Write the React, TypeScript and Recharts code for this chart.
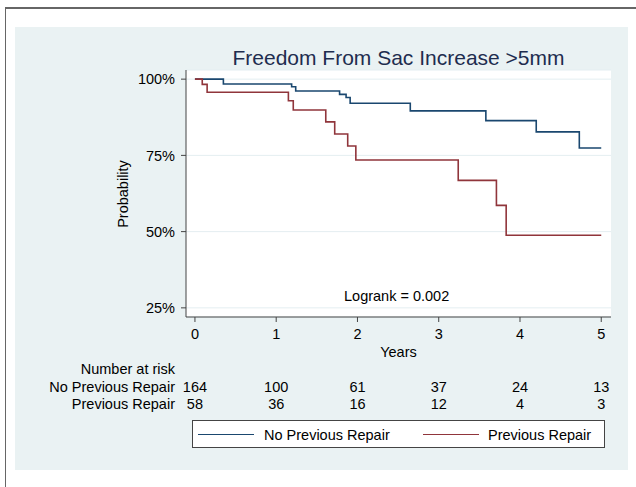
import { LineChart, Line, XAxis, YAxis, CartesianGrid, Legend } from "recharts";

const FONT = '"Liberation Sans", Arial, Helvetica, sans-serif';

// Kaplan-Meier estimates (years, % free of sac increase)
const noPrevYears = [0, 0.35, 1.19, 1.24, 1.78, 1.86, 1.91, 2.65, 3.58, 4.2, 4.73, 5.0];
const noPrevSurv = [100, 98.4, 97.5, 96.1, 95.0, 94.0, 92.1, 89.6, 86.4, 82.7, 77.4, 77.4];
const prevYears = [0, 0.09, 0.15, 1.15, 1.21, 1.61, 1.72, 1.88, 1.98, 3.24, 3.71, 3.83, 5.0];
const prevSurv = [100, 98.3, 95.7, 92.9, 89.9, 86.0, 82.0, 78.1, 73.5, 66.8, 58.6, 48.8, 48.8];

const yearTicks = [0, 1, 2, 3, 4, 5];
const probTicks = [25, 50, 75, 100];
const noPrevRisk = [164, 100, 61, 37, 24, 13];
const prevRisk = [58, 36, 16, 12, 4, 3];

const noPrevData = noPrevYears.map((t, i) => ({ t, s: noPrevSurv[i] }));
const prevData = prevYears.map((t, i) => ({ t, s: prevSurv[i] }));
const noPrevRiskData = yearTicks.map((t, i) => ({ t, n: noPrevRisk[i] }));
const prevRiskData = yearTicks.map((t, i) => ({ t, n: prevRisk[i] }));

const SERIES = ["No Previous Repair", "Previous Repair"];
const BLUE = "#1a476f";
const RED = "#90353b";
const AXIS = "#444";
const X_DOMAIN = [-0.11, 5.12];

function LegendBox({ payload }: any) {
  const items = (payload || []).filter((p: any) => SERIES.includes(p.value));
  const spots = [
    { line: 5, text: 71 },
    { line: 230, text: 295 },
  ];
  return (
    <div style={{ position: "relative", width: "100%", height: "100%" }}>
      {items.map((p: any, i: number) => (
        <div key={p.value}>
          <div
            style={{
              position: "absolute",
              left: spots[i].line,
              top: 13,
              width: 56,
              height: 0,
              borderTop: `1.5px solid ${p.color}`,
            }}
          />
          <div
            style={{
              position: "absolute",
              left: spots[i].text,
              top: 6.5,
              fontSize: 14.5,
              lineHeight: 1,
              color: "#000",
              whiteSpace: "nowrap",
            }}
          >
            {p.value}
          </div>
        </div>
      ))}
    </div>
  );
}

const txt = (extra: any) => ({
  position: "absolute" as const,
  fontSize: 14.5,
  lineHeight: 1,
  color: "#000",
  whiteSpace: "nowrap" as const,
  ...extra,
});

export default function App() {
  return (
    <div
      style={{
        position: "absolute",
        left: 0,
        top: 0,
        width: 636,
        height: 487,
        background: "#fff",
        fontFamily: FONT,
        overflow: "hidden",
      }}
    >
      <div
        style={{
          position: "absolute",
          left: 5,
          top: 7,
          width: 640,
          height: 490,
          borderTop: "2px solid #666",
          borderLeft: "1.5px solid #666",
        }}
      />
      <div
        style={{ position: "absolute", left: 15, top: 27, width: 613, height: 443, background: "#eaf2f3" }}
      />

      <div style={{ position: "absolute", left: 0, top: 0 }}>
        <LineChart width={636} height={487} margin={{ top: 70, right: 25, bottom: 77, left: 100 }}>
          <CartesianGrid vertical={false} fill="#fff" stroke="#e4eef1" />
          <XAxis
            type="number"
            dataKey="t"
            domain={X_DOMAIN}
            ticks={yearTicks}
            allowDataOverflow
            height={59}
            stroke={AXIS}
            tickSize={5}
            tickMargin={7}
            tick={{ fill: "#000", fontSize: 14.5 }}
          />
          <XAxis
            xAxisId="r1"
            type="number"
            dataKey="t"
            domain={X_DOMAIN}
            ticks={yearTicks}
            allowDataOverflow
            height={17}
            axisLine={false}
            tickLine={false}
            tickSize={0}
            tickMargin={6}
            tick={{ fill: "#000", fontSize: 14.5 }}
            tickFormatter={(v: number) => String(noPrevRisk[yearTicks.indexOf(v)])}
          />
          <XAxis
            xAxisId="r2"
            type="number"
            dataKey="t"
            domain={X_DOMAIN}
            ticks={yearTicks}
            allowDataOverflow
            height={17}
            axisLine={false}
            tickLine={false}
            tickSize={0}
            tickMargin={6}
            tick={{ fill: "#000", fontSize: 14.5 }}
            tickFormatter={(v: number) => String(prevRisk[yearTicks.indexOf(v)])}
          />
          <YAxis
            type="number"
            domain={[22, 103]}
            ticks={probTicks}
            allowDataOverflow
            width={86}
            stroke={AXIS}
            tickSize={5}
            tickMargin={6}
            tick={{ fill: "#000", fontSize: 14.5 }}
            tickFormatter={(v: number) => `${v}%`}
          />
          <Line
            data={noPrevData}
            dataKey="s"
            name={SERIES[0]}
            type="stepAfter"
            stroke={BLUE}
            strokeWidth={1.6}
            dot={false}
            isAnimationActive={false}
          />
          <Line
            data={prevData}
            dataKey="s"
            name={SERIES[1]}
            type="stepAfter"
            stroke={RED}
            strokeWidth={1.6}
            dot={false}
            isAnimationActive={false}
          />
          {/* at-risk counts: bound to their own axes so the tick rows get drawn, line itself not shown */}
          <Line
            xAxisId="r1"
            data={noPrevRiskData}
            dataKey="n"
            stroke="none"
            dot={false}
            activeDot={false}
            legendType="none"
            isAnimationActive={false}
          />
          <Line
            xAxisId="r2"
            data={prevRiskData}
            dataKey="n"
            stroke="none"
            dot={false}
            activeDot={false}
            legendType="none"
            isAnimationActive={false}
          />
          <Legend
            layout="horizontal"
            verticalAlign="middle"
            align="center"
            content={<LegendBox />}
            wrapperStyle={{
              left: 192,
              top: 420,
              width: 413,
              height: 28,
              boxSizing: "border-box",
              border: "1px solid #444",
              background: "#fff",
            }}
          />
        </LineChart>
      </div>

      <div style={txt({ left: 0, width: 797, top: 46.5, textAlign: "center", fontSize: 21, color: "#1e2d4f" })}>
        Freedom From Sac Increase &gt;5mm
      </div>
      <div
        style={txt({
          left: 122.5,
          top: 193.5,
          transform: "translate(-50%, -50%) rotate(-90deg)",
        })}
      >
        Probability
      </div>
      <div style={txt({ left: 0, width: 797, top: 345, textAlign: "center" })}>Years</div>
      <div style={txt({ left: 344, top: 289 })}>Logrank = 0.002</div>
      <div style={txt({ left: 0, width: 175, top: 361.5, textAlign: "right" })}>Number at risk</div>
      <div style={txt({ left: 0, width: 175, top: 380, textAlign: "right" })}>No Previous Repair</div>
      <div style={txt({ left: 0, width: 175, top: 397, textAlign: "right" })}>Previous Repair</div>
    </div>
  );
}
